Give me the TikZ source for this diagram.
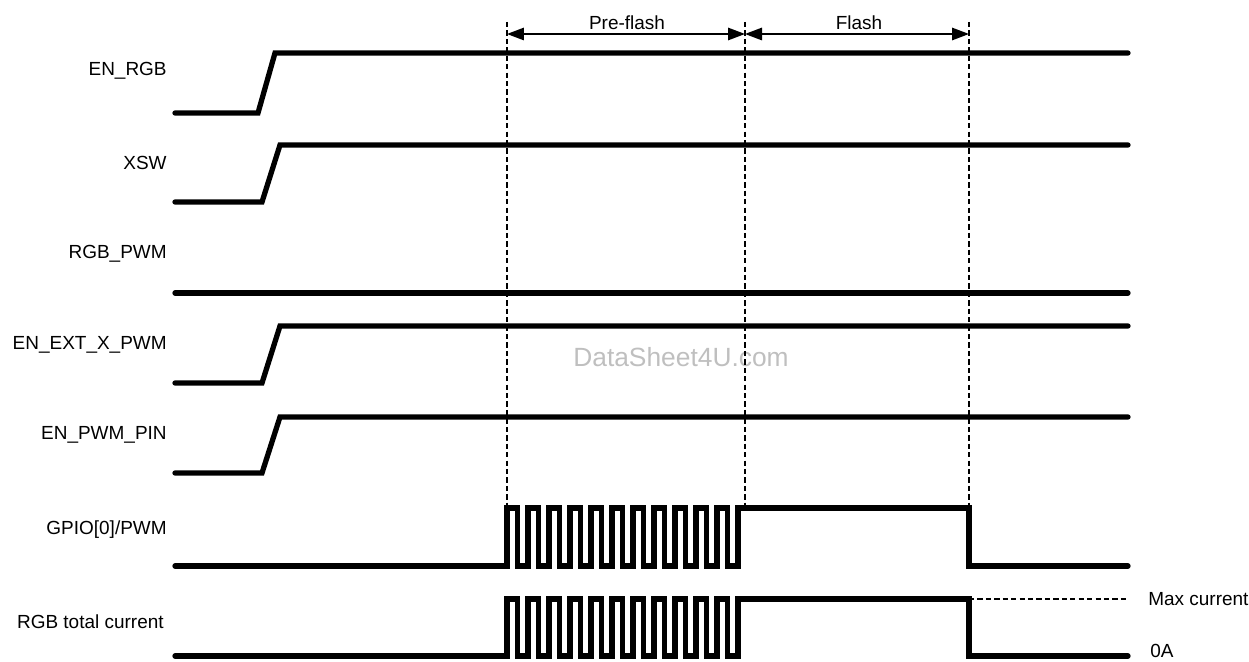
\documentclass[tikz,border=0pt]{standalone}
\usepackage{fontspec}
\setmainfont{Liberation Sans}
\usetikzlibrary{arrows.meta}

\begin{document}
\begin{tikzpicture}[
    x=0.02cm, y=-0.02cm,
    signal/.style={line width=3pt, line cap=round, line join=miter},
    guide/.style={line width=0.7pt, dash pattern=on 3pt off 1.8pt},
    dim/.style={{Triangle[length=3.4mm,width=2.5mm]}-{Triangle[length=3.4mm,width=2.5mm]}, line width=0.8pt},
    sigtag/.style={anchor=east, inner sep=0pt, font=\fontsize{10.8}{13}\selectfont},
    level/.style={anchor=west, inner sep=0pt, font=\fontsize{10.8}{13}\selectfont}
]
\useasboundingbox (0,0) rectangle (1249,662);

% signal names
\node[sigtag] (enrgb) at (167,71) {EN\_RGB};
\node[sigtag] (xsw) at (167,163) {XSW};
\node[sigtag] (rgbpwm) at (167,254) {RGB\_PWM};
\node[sigtag] (enext) at (167,345) {EN\_EXT\_X\_PWM};
\node[sigtag] (enpin) at (167,435) {EN\_PWM\_PIN};
\node[sigtag] (gpio) at (167,530) {GPIO[0]/PWM};
\node[sigtag] (total) at (164,622) {RGB total current};

% watermark
\node[text=black!25, font=\fontsize{15}{18}\selectfont] (mark) at (681,357) {DataSheet4U.com};

% time marks
\coordinate (tpre) at (507,34);
\coordinate (tflash) at (745,34);
\coordinate (tend) at (969,34);

\draw[guide] (507,22) -- (507,508);
\draw[guide] (745,22) -- (745,508);
\draw[guide] (969,22) -- (969,508);

\draw[dim] (tpre) -- (tflash);
\draw[dim] (tflash) -- (tend);
\node[font=\fontsize{10.8}{13}\selectfont] (prelbl) at (627,23) {Pre-flash};
\node[font=\fontsize{10.8}{13}\selectfont] (flashlbl) at (859,23) {Flash};

% enables
\draw[signal] (175,113) -- (258,113) -- (275,53) -- (1128,53);
\draw[signal] (175,202) -- (262,202) -- (280,145) -- (1128,145);
\draw[signal] (175,293) -- (1128,293);
\draw[signal] (175,383) -- (262,383) -- (280,326) -- (1128,326);
\draw[signal] (175,473) -- (262,473) -- (280,417) -- (1128,417);

% pwm and current
\draw[signal] (175,566) \foreach \i in {0,...,10} {
    -- ({507+21*\i},566) -- ++(0,-58) -- ++(10.5,0) -- ++(0,58)
} -- (738,566) -- (738,508) -- (969,508) -- (969,566) -- (1128,566);
\draw[signal] (175,656) \foreach \i in {0,...,10} {
    -- ({507+21*\i},656) -- ++(0,-57) -- ++(10.5,0) -- ++(0,57)
} -- (738,656) -- (738,599) -- (969,599) -- (969,656) -- (1128,656);

\draw[guide] (969,599) -- (1128,599);
\node[level] (maxlbl) at (1148,599) {Max current};
\node[level] (zerolbl) at (1150,651) {0A};
\end{tikzpicture}
\end{document}
